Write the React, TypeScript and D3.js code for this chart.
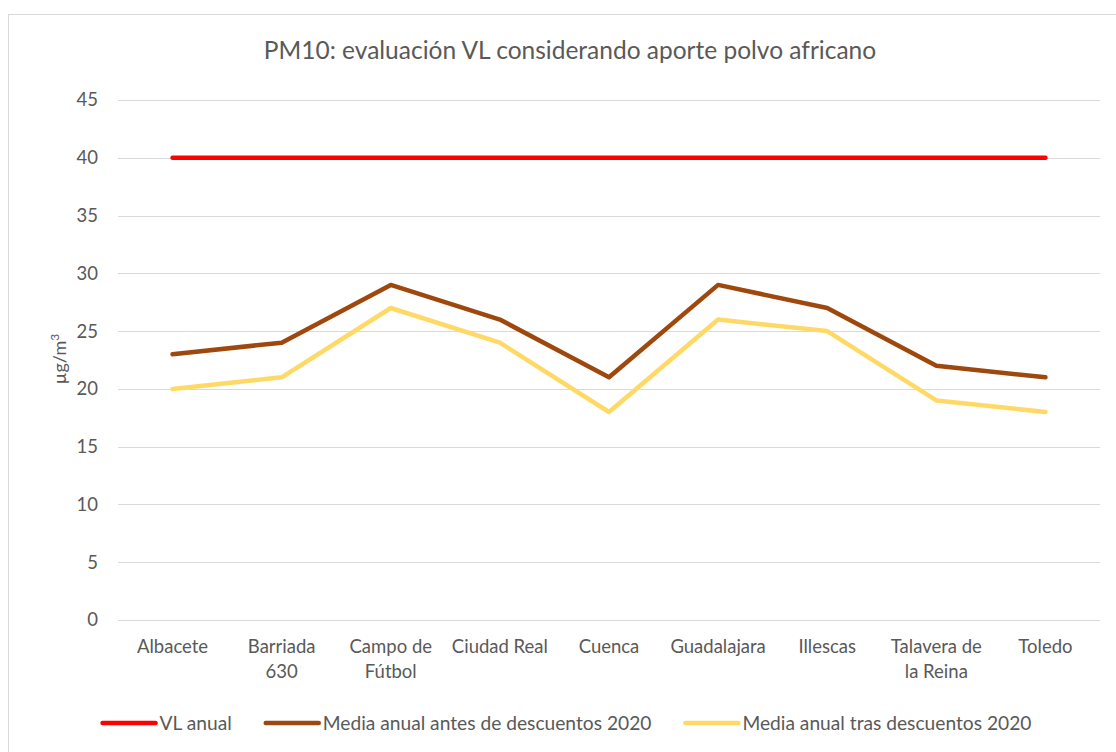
import React, { useEffect, useRef } from 'react';
import * as d3 from 'd3';

const categories = [
  'Albacete',
  'Barriada 630',
  'Campo de Fútbol',
  'Ciudad Real',
  'Cuenca',
  'Guadalajara',
  'Illescas',
  'Talavera de la Reina',
  'Toledo',
];
// label line breaks as in the original chart
const categoryLines = [
  ['Albacete'],
  ['Barriada', '630'],
  ['Campo de', 'Fútbol'],
  ['Ciudad Real'],
  ['Cuenca'],
  ['Guadalajara'],
  ['Illescas'],
  ['Talavera de', 'la Reina'],
  ['Toledo'],
];
const vlAnual = [40, 40, 40, 40, 40, 40, 40, 40, 40];
const mediaAntes = [23, 24, 29, 26, 21, 29, 27, 22, 21];
const mediaTras = [20, 21, 27, 24, 18, 26, 25, 19, 18];
const yTicks = [0, 5, 10, 15, 20, 25, 30, 35, 40, 45];

const series = [
  { name: 'VL anual', values: vlAnual, color: '#FF0000' },
  { name: 'Media anual antes de descuentos 2020', values: mediaAntes, color: '#9E480E' },
  { name: 'Media anual tras descuentos 2020', values: mediaTras, color: '#FFD966' },
];

const W = 1116;
const H = 752;
const FONT = 'Lato, "Open Sans", sans-serif';
const TEXT = '#595959';

const App = () => {
  const svgRef = useRef<SVGSVGElement | null>(null);

  useEffect(() => {
    document.body.style.margin = '0';
    if (!svgRef.current) return;
    const svg = d3.select(svgRef.current);
    svg.selectAll('*').remove();

    const margin = { top: 100, right: 16, bottom: 132, left: 118 };
    const chartW = W - margin.left - margin.right;
    const chartH = H - margin.top - margin.bottom;

    // chart area border
    svg.append('rect')
      .attr('x', 8.5)
      .attr('y', 14.5)
      .attr('width', W + 20)
      .attr('height', H + 20)
      .attr('fill', '#fff')
      .attr('stroke', '#d9d9d9');

    svg.append('text')
      .attr('x', 570)
      .attr('y', 59)
      .attr('text-anchor', 'middle')
      .style('font-family', FONT)
      .style('font-size', '24.5px')
      .style('fill', TEXT)
      .text('PM10: evaluación VL considerando aporte polvo africano');

    const g = svg.append('g').attr('transform', `translate(${margin.left},${margin.top})`);

    const x = d3.scaleBand().domain(categories).range([0, chartW]);
    const y = d3.scaleLinear().domain([0, 45]).range([chartH, 0]);

    // gridlines
    g.append('g')
      .selectAll('line')
      .data(yTicks)
      .join('line')
      .attr('x1', 0)
      .attr('x2', chartW)
      .attr('y1', d => Math.round(y(d)) + 0.5)
      .attr('y2', d => Math.round(y(d)) + 0.5)
      .attr('stroke', '#d9d9d9')
      .attr('stroke-width', 1);

    // y tick labels
    g.append('g')
      .selectAll('text')
      .data(yTicks)
      .join('text')
      .attr('x', -20)
      .attr('y', d => y(d))
      .attr('dy', '0.35em')
      .attr('text-anchor', 'end')
      .style('font-family', FONT)
      .style('font-size', '18.5px')
      .style('fill', TEXT)
      .text(d => d);

    // y axis title
    const yt = g.append('text')
      .attr('transform', `translate(-52,${chartH / 2 - 1}) rotate(-90)`)
      .attr('text-anchor', 'middle')
      .style('font-family', FONT)
      .style('font-size', '18px')
      .style('fill', TEXT);
    yt.append('tspan').text('µg/m');
    yt.append('tspan').attr('dy', -7).style('font-size', '12px').text('3');

    // x labels
    const xl = g.append('g')
      .selectAll('text')
      .data(categories)
      .join('text')
      .attr('x', d => (x(d) || 0) + x.bandwidth() / 2)
      .attr('y', chartH + 33)
      .attr('text-anchor', 'middle')
      .style('font-family', FONT)
      .style('font-size', '18.5px')
      .style('fill', TEXT);
    xl.each(function (d, i) {
      const t = d3.select(this);
      categoryLines[i].forEach((line, j) => {
        t.append('tspan')
          .attr('x', (x(d) || 0) + x.bandwidth() / 2)
          .attr('dy', j === 0 ? 0 : 25)
          .text(line);
      });
    });

    // lines
    const line = d3.line<number>()
      .x((_, i) => (x(categories[i]) || 0) + x.bandwidth() / 2)
      .y(d => y(d));

    series.forEach(s => {
      g.append('path')
        .datum(s.values)
        .attr('d', line)
        .attr('fill', 'none')
        .attr('stroke', s.color)
        .attr('stroke-width', 4.5)
        .attr('stroke-linejoin', 'round')
        .attr('stroke-linecap', 'round');
    });

    // legend
    const legend = svg.append('g').attr('transform', `translate(0,${H - 29})`);
    const items: { g: any; w: number }[] = [];
    series.forEach(s => {
      const it = legend.append('g');
      it.append('line')
        .attr('x1', 2)
        .attr('x2', 55)
        .attr('y1', 0)
        .attr('y2', 0)
        .attr('stroke', s.color)
        .attr('stroke-width', 4.5)
        .attr('stroke-linecap', 'round');
      const txt = it.append('text')
        .attr('x', 59)
        .attr('y', 0)
        .attr('dy', '0.35em')
        .style('font-family', FONT)
        .style('font-size', '19.2px')
        .style('fill', TEXT)
        .text(s.name);
      const tw = (txt.node() as SVGTextElement).getComputedTextLength();
      items.push({ g: it, w: 59 + tw });
    });
    const gap = 32;
    const total = d3.sum(items, d => d.w) + gap * (items.length - 1);
    let cx = 566 - total / 2;
    items.forEach(it => {
      it.g.attr('transform', `translate(${cx},0)`);
      cx += it.w + gap;
    });
  }, []);

  return <svg ref={svgRef} width={W} height={H} style={{ display: 'block' }} />;
};

export default App;
